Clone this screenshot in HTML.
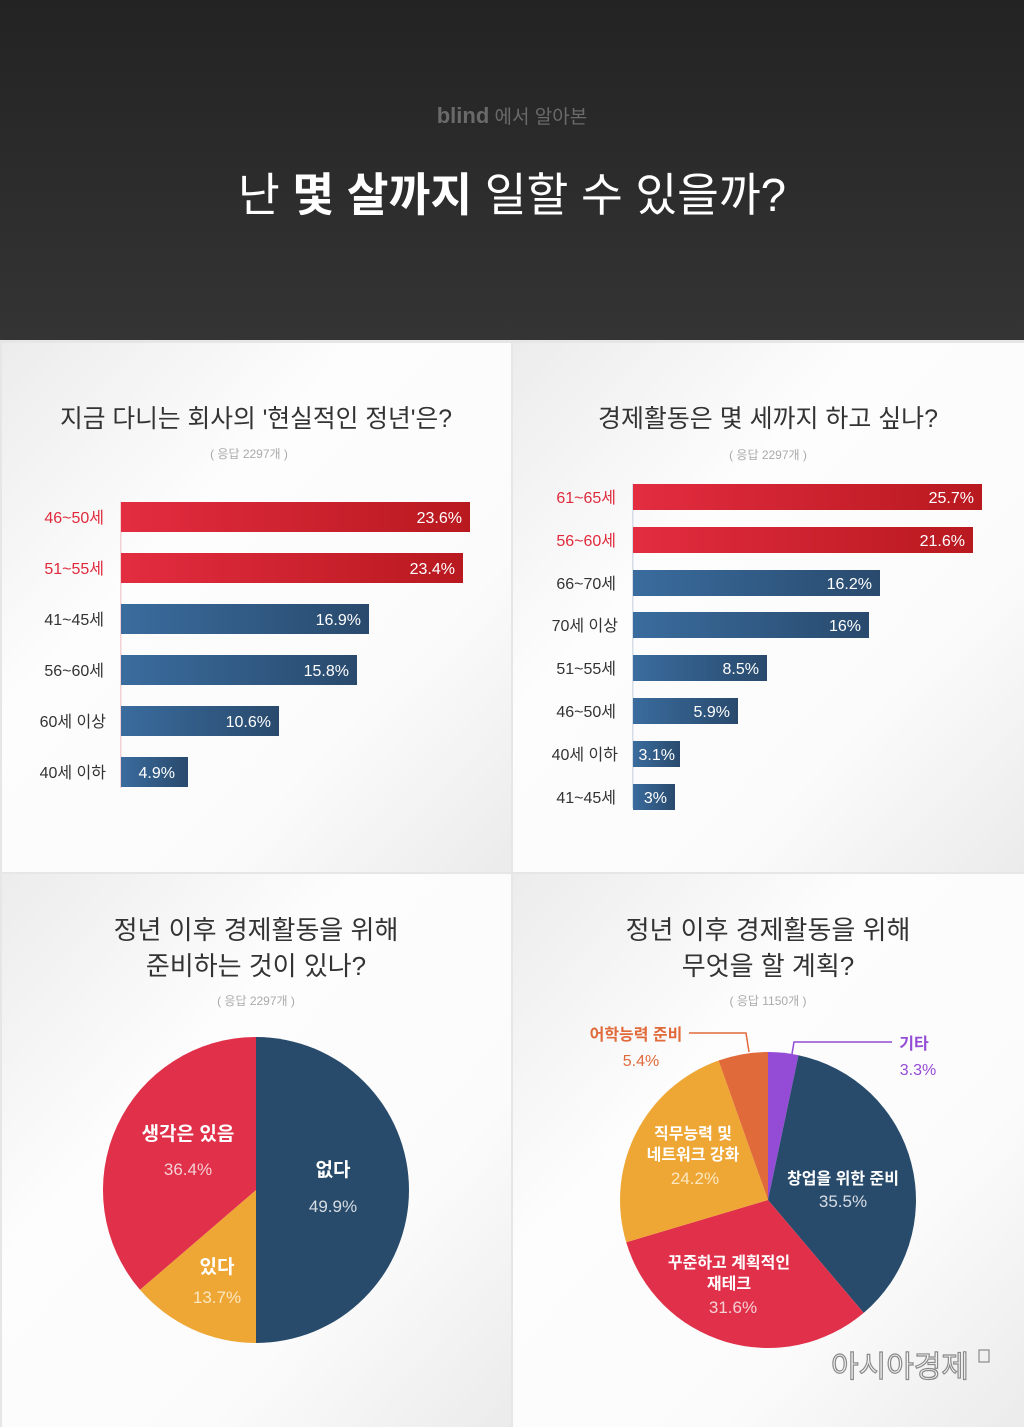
<!DOCTYPE html>
<html><head><meta charset="utf-8"><style>
html,body{margin:0;padding:0;background:#fff}
svg{display:block}
text{font-family:"Liberation Sans","Noto Sans CJK KR",sans-serif}
</style></head><body>
<svg width="1024" height="1427" viewBox="0 0 1024 1427" xmlns="http://www.w3.org/2000/svg">
<defs>
<linearGradient id="hd" x1="0" y1="0" x2="0" y2="1"><stop offset="0" stop-color="#232323"/><stop offset="1" stop-color="#343434"/></linearGradient>
<linearGradient id="pn" x1="0" y1="0" x2="1" y2="1"><stop offset="0" stop-color="#ececec"/><stop offset="0.35" stop-color="#fdfdfd"/><stop offset="0.7" stop-color="#fbfbfb"/><stop offset="1" stop-color="#ebebeb"/></linearGradient>
<linearGradient id="rd" x1="0" y1="0" x2="1" y2="0"><stop offset="0" stop-color="#e32c40"/><stop offset="1" stop-color="#b8191f"/></linearGradient>
<linearGradient id="bl" x1="0" y1="0" x2="1" y2="0"><stop offset="0" stop-color="#3a6c9e"/><stop offset="1" stop-color="#294a6d"/></linearGradient>
</defs>
<rect x="0" y="0" width="1024" height="340" fill="url(#hd)"/>
<rect x="0" y="340" width="1024" height="1087" fill="#e6e6e6"/>
<rect x="2" y="343" width="509" height="529" fill="url(#pn)"/>
<rect x="513" y="343" width="511" height="529" fill="url(#pn)"/>
<rect x="2" y="874" width="509" height="553" fill="url(#pn)"/>
<rect x="513" y="874" width="511" height="553" fill="url(#pn)"/>

<text x="512" y="123" text-anchor="middle" font-size="19" fill="#6a6a6a"><tspan font-weight="bold" font-size="22">blind</tspan> 에서 알아본</text>
<text x="512" y="211" text-anchor="middle" font-size="46" fill="#fff" textLength="548" lengthAdjust="spacingAndGlyphs">난 <tspan font-weight="bold">몇 살까지</tspan> 일할 수 있을까?</text>

<!-- left bars -->
<text x="256" y="427" text-anchor="middle" font-size="25" fill="#333" textLength="392" lengthAdjust="spacingAndGlyphs">지금 다니는 회사의 '현실적인 정년'은?</text>
<text x="249" y="458" text-anchor="middle" font-size="12" fill="#aaa">( 응답 2297개 )</text>
<rect x="120" y="502" width="1.5" height="286" fill="#f2d0d4"/>
<g font-size="16">
<rect x="121" y="502" width="349" height="30" fill="url(#rd)"/><text x="462" y="523" text-anchor="end" fill="#fff">23.6%</text><text x="104" y="523" text-anchor="end" fill="#e02a3c">46~50세</text>
<rect x="121" y="553" width="342" height="30" fill="url(#rd)"/><text x="455" y="574" text-anchor="end" fill="#fff">23.4%</text><text x="104" y="574" text-anchor="end" fill="#e02a3c">51~55세</text>
<rect x="121" y="604" width="248" height="30" fill="url(#bl)"/><text x="361" y="625" text-anchor="end" fill="#fff">16.9%</text><text x="104" y="625" text-anchor="end" fill="#333">41~45세</text>
<rect x="121" y="655" width="236" height="30" fill="url(#bl)"/><text x="349" y="676" text-anchor="end" fill="#fff">15.8%</text><text x="104" y="676" text-anchor="end" fill="#333">56~60세</text>
<rect x="121" y="706" width="158" height="30" fill="url(#bl)"/><text x="271" y="727" text-anchor="end" fill="#fff">10.6%</text><text x="106" y="727" text-anchor="end" fill="#333">60세 이상</text>
<rect x="121" y="757" width="67" height="30" fill="url(#bl)"/><text x="175" y="778" text-anchor="end" fill="#fff">4.9%</text><text x="106" y="778" text-anchor="end" fill="#333">40세 이하</text>
</g>

<!-- right bars -->
<text x="768" y="427" text-anchor="middle" font-size="25" fill="#333" textLength="340" lengthAdjust="spacingAndGlyphs">경제활동은 몇 세까지 하고 싶나?</text>
<text x="768" y="459" text-anchor="middle" font-size="12" fill="#aaa">( 응답 2297개 )</text>
<rect x="632" y="484" width="1.5" height="324" fill="#d5dde6"/>
<g font-size="16">
<rect x="633" y="484" width="349" height="26" fill="url(#rd)"/><text x="974" y="503" text-anchor="end" fill="#fff">25.7%</text><text x="616" y="503" text-anchor="end" fill="#e02a3c">61~65세</text>
<rect x="633" y="527" width="340" height="26" fill="url(#rd)"/><text x="965" y="546" text-anchor="end" fill="#fff">21.6%</text><text x="616" y="546" text-anchor="end" fill="#e02a3c">56~60세</text>
<rect x="633" y="570" width="247" height="26" fill="url(#bl)"/><text x="872" y="589" text-anchor="end" fill="#fff">16.2%</text><text x="616" y="589" text-anchor="end" fill="#333">66~70세</text>
<rect x="633" y="612" width="236" height="26" fill="url(#bl)"/><text x="861" y="631" text-anchor="end" fill="#fff">16%</text><text x="618" y="631" text-anchor="end" fill="#333">70세 이상</text>
<rect x="633" y="655" width="134" height="26" fill="url(#bl)"/><text x="759" y="674" text-anchor="end" fill="#fff">8.5%</text><text x="616" y="674" text-anchor="end" fill="#333">51~55세</text>
<rect x="633" y="698" width="105" height="26" fill="url(#bl)"/><text x="730" y="717" text-anchor="end" fill="#fff">5.9%</text><text x="616" y="717" text-anchor="end" fill="#333">46~50세</text>
<rect x="633" y="741" width="47" height="26" fill="url(#bl)"/><text x="675" y="760" text-anchor="end" fill="#fff">3.1%</text><text x="618" y="760" text-anchor="end" fill="#333">40세 이하</text>
<rect x="633" y="784" width="42" height="26" fill="url(#bl)"/><text x="667" y="803" text-anchor="end" fill="#fff">3%</text><text x="616" y="803" text-anchor="end" fill="#333">41~45세</text>
</g>

<!-- pie 1 -->
<text x="256" y="939" text-anchor="middle" font-size="26" fill="#333">정년 이후 경제활동을 위해</text>
<text x="256" y="975" text-anchor="middle" font-size="26" fill="#333">준비하는 것이 있나?</text>
<text x="256" y="1005" text-anchor="middle" font-size="12" fill="#aaa">( 응답 2297개 )</text>
<path d="M256,1190 L256,1037 A153,153 0 0 1 256,1343 Z" fill="#284b6c"/>
<path d="M256,1190 L256,1343 A153,153 0 0 1 140,1289.8 Z" fill="#eea735"/>
<path d="M256,1190 L140,1289.8 A153,153 0 0 1 256,1037 Z" fill="#e0304a"/>
<g text-anchor="middle">
<text x="333" y="1176" font-size="19" font-weight="bold" fill="#fff">없다</text><text x="333" y="1212" font-size="17" fill="#d8dde4">49.9%</text>
<text x="188" y="1140" font-size="19" font-weight="bold" fill="#fff">생각은 있음</text><text x="188" y="1175" font-size="17" fill="#f5d0d5">36.4%</text>
<text x="217" y="1273" font-size="19" font-weight="bold" fill="#fff">있다</text><text x="217" y="1303" font-size="17" fill="#fbe7c0">13.7%</text>
</g>

<!-- pie 2 -->
<text x="768" y="939" text-anchor="middle" font-size="26" fill="#333">정년 이후 경제활동을 위해</text>
<text x="768" y="975" text-anchor="middle" font-size="26" fill="#333">무엇을 할 계획?</text>
<text x="768" y="1005" text-anchor="middle" font-size="12" fill="#aaa">( 응답 1150개 )</text>
<path d="M768,1200 L768,1052 A148,148 0 0 1 798.5,1055.2 Z" fill="#944bd6"/>
<path d="M768,1200 L798.5,1055.2 A148,148 0 0 1 863.7,1312.9 Z" fill="#284b6c"/>
<path d="M768,1200 L863.7,1312.9 A148,148 0 0 1 626.2,1242.3 Z" fill="#e0304a"/>
<path d="M768,1200 L626.2,1242.3 A148,148 0 0 1 718.6,1060.5 Z" fill="#eea735"/>
<path d="M768,1200 L718.6,1060.5 A148,148 0 0 1 768,1052 Z" fill="#e06a3a"/>
<polyline points="689,1033 746,1033 749,1052" fill="none" stroke="#e06a3a" stroke-width="1.5"/>
<polyline points="892,1042 794,1042 792,1054" fill="none" stroke="#944bd6" stroke-width="1.5"/>
<g text-anchor="middle">
<text x="636" y="1040" font-size="16" font-weight="bold" fill="#e06a3a">어학능력 준비</text><text x="641" y="1066" font-size="16" fill="#e06a3a">5.4%</text>
<text x="914" y="1049" font-size="16" font-weight="bold" fill="#944bd6">기타</text><text x="918" y="1075" font-size="16" fill="#944bd6">3.3%</text>
<text x="843" y="1184" font-size="16" font-weight="bold" fill="#fff">창업을 위한 준비</text><text x="843" y="1207" font-size="17" fill="#d8dde4">35.5%</text>
<text x="693" y="1139" font-size="16" font-weight="bold" fill="#fff">직무능력 및</text><text x="693" y="1160" font-size="16" font-weight="bold" fill="#fff">네트워크 강화</text><text x="695" y="1184" font-size="17" fill="#fbe7c0">24.2%</text>
<text x="729" y="1268" font-size="16" font-weight="bold" fill="#fff">꾸준하고 계획적인</text><text x="729" y="1289" font-size="16" font-weight="bold" fill="#fff">재테크</text><text x="733" y="1313" font-size="17" fill="#f5d0d5">31.6%</text>
</g>
<text x="900" y="1377" text-anchor="middle" font-size="30" fill="#f4f4f4" stroke="#8a8a8a" stroke-width="1.2">아시아경제</text>
<rect x="979" y="1350" width="10" height="12" fill="none" stroke="#8a8a8a" stroke-width="1.2"/>
</svg>
</body></html>
